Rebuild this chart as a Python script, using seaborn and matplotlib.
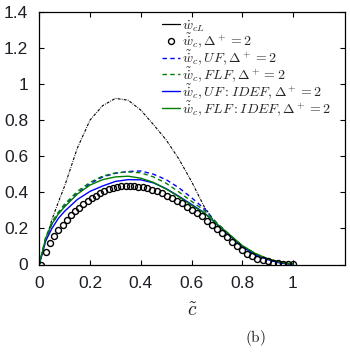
import matplotlib
matplotlib.use("Agg")
import matplotlib.pyplot as plt
from matplotlib.lines import Line2D
import seaborn as sns

# ---- data ----
x_line = [0, 0.025, 0.05, 0.075, 0.1, 0.15, 0.2, 0.25, 0.3, 0.35, 0.4, 0.45,
          0.5, 0.55, 0.6, 0.65, 0.7, 0.75, 0.8, 0.85, 0.9, 0.95, 1.0]

w_cL = [0, 0.13, 0.25, 0.345, 0.435, 0.645, 0.80, 0.88, 0.92, 0.91, 0.855, 0.775,
        0.69, 0.585, 0.46, 0.32, 0.22, 0.16, 0.10, 0.06, 0.032, 0.014, 0.003]

w_uf = [0, 0.14, 0.225, 0.28, 0.325, 0.395, 0.448, 0.485, 0.505, 0.515, 0.518, 0.50,
        0.47, 0.425, 0.37, 0.31, 0.228, 0.163, 0.10, 0.058, 0.029, 0.01, 0.002]

w_flf = [0, 0.15, 0.235, 0.29, 0.335, 0.405, 0.455, 0.49, 0.507, 0.513, 0.508, 0.485,
         0.45, 0.402, 0.35, 0.30, 0.23, 0.166, 0.104, 0.061, 0.031, 0.011, 0.002]

w_uf_idef = [0, 0.13, 0.20, 0.255, 0.295, 0.36, 0.405, 0.435, 0.46, 0.47, 0.469, 0.452,
             0.42, 0.378, 0.333, 0.287, 0.222, 0.16, 0.098, 0.055, 0.027, 0.008, 0.001]

w_flf_idef = [0, 0.145, 0.225, 0.28, 0.32, 0.39, 0.44, 0.47, 0.485, 0.489, 0.478, 0.455,
              0.418, 0.375, 0.328, 0.285, 0.225, 0.165, 0.105, 0.062, 0.032, 0.012, 0.002]

x_circ = [0.005, 0.025, 0.042, 0.058, 0.075, 0.092, 0.108, 0.125, 0.141, 0.158, 0.174,
          0.19, 0.207, 0.224, 0.24, 0.257, 0.273, 0.29, 0.306, 0.323, 0.34, 0.357,
          0.374, 0.391, 0.408, 0.425, 0.443, 0.463, 0.483, 0.503, 0.523, 0.542, 0.562,
          0.582, 0.602, 0.622, 0.642, 0.661, 0.681, 0.701, 0.721, 0.741, 0.761, 0.78,
          0.80, 0.82, 0.84, 0.86, 0.88, 0.90, 0.92, 0.94, 0.96, 0.98, 1.0]
w_circ = [0.0, 0.07, 0.12, 0.158, 0.19, 0.22, 0.248, 0.272, 0.294, 0.314, 0.333,
          0.351, 0.366, 0.382, 0.395, 0.406, 0.416, 0.423, 0.428, 0.432, 0.434, 0.434,
          0.433, 0.431, 0.427, 0.421, 0.415, 0.406, 0.397, 0.382, 0.369, 0.354, 0.339,
          0.321, 0.304, 0.286, 0.266, 0.243, 0.221, 0.198, 0.175, 0.15, 0.125, 0.10,
          0.078, 0.06, 0.045, 0.033, 0.024, 0.017, 0.011, 0.007, 0.004, 0.004, 0.004]

x_ticks = [0, 0.2, 0.4, 0.6, 0.8, 1.0]
x_ticklabels = ["0", "0.2", "0.4", "0.6", "0.8", "1"]
y_ticks = [0, 0.2, 0.4, 0.6, 0.8, 1.0, 1.2, 1.4]
y_ticklabels = ["0", "0.2", "0.4", "0.6", "0.8", "1", "1.2", "1.4"]

labels = [r"$\dot{w}_{cL}$",
          r"$\tilde{\dot{w}}_c, \Delta^+=2$",
          r"$\tilde{\dot{w}}_c, UF, \Delta^+=2$",
          r"$\tilde{\dot{w}}_c, FLF, \Delta^+=2$",
          r"$\tilde{\dot{w}}_c, UF:IDEF, \Delta^+=2$",
          r"$\tilde{\dot{w}}_c, FLF:IDEF, \Delta^+=2$"]

# ---- style ----
sns.set_style("ticks")
plt.rcParams["font.family"] = ["Liberation Sans", "DejaVu Sans"]
plt.rcParams["mathtext.fontset"] = "cm"

BLUE = "#0000ff"
GREEN = "#007f00"
TXT = "#1c1f26"

fig = plt.figure(figsize=(3.5, 3.53), dpi=100)
ax = fig.add_axes([39.3 / 350, 1 - 264.5 / 353, (345 - 39.3) / 350, (264.5 - 11.7) / 353])

kw = dict(ax=ax, sort=False, estimator=None, legend=False)
sns.lineplot(x=x_line, y=w_cL, color="black", linewidth=0.8, dashes=False, **kw)
ax.lines[-1].set_dashes([2.6, 1.1, 0.7, 1.1])
sns.lineplot(x=x_line, y=w_uf, color=BLUE, linewidth=1.0, **kw)
ax.lines[-1].set_dashes([3.2, 2.4])
sns.lineplot(x=x_line, y=w_flf, color=GREEN, linewidth=1.0, **kw)
ax.lines[-1].set_dashes([3.2, 2.4])
sns.lineplot(x=x_line, y=w_uf_idef, color=BLUE, linewidth=1.0, **kw)
sns.lineplot(x=x_line, y=w_flf_idef, color=GREEN, linewidth=1.0, **kw)
sns.lineplot(x=x_circ, y=w_circ, color="black", linestyle="", marker="o",
             markersize=4.3, markerfacecolor="none", markeredgecolor="black",
             markeredgewidth=1.0, **kw)

ax.set_xlim(0, 1.205)
ax.set_ylim(0, 1.4)
ax.set_xticks(x_ticks)
ax.set_xticklabels(x_ticklabels)
ax.set_yticks(y_ticks)
ax.set_yticklabels(y_ticklabels)
ax.tick_params(direction="in", length=3.5, width=0.8, top=True, right=True,
               labelsize=12.5, colors="black", labelcolor=TXT)
ax.tick_params(axis="y", pad=8)
ax.tick_params(axis="x", pad=8.5)
for s in ax.spines.values():
    s.set_linewidth(0.9)
    s.set_color("black")

ax.set_xlabel(r"$\tilde{c}$", fontsize=14, color=TXT, labelpad=8)

handles = [
    Line2D([], [], color="black", linewidth=0.9),
    Line2D([], [], color="black", linestyle="", marker="o", markersize=4.3,
           markerfacecolor="none", markeredgewidth=1.0),
    Line2D([], [], color=BLUE, linewidth=1.0, dashes=[3.2, 2.4]),
    Line2D([], [], color=GREEN, linewidth=1.0, dashes=[3.2, 2.4]),
    Line2D([], [], color=BLUE, linewidth=1.0),
    Line2D([], [], color=GREEN, linewidth=1.0),
]
ax.legend(handles, labels, loc="upper left", bbox_to_anchor=(0.4, 0.975),
          frameon=False, fontsize=10, handlelength=1.3, handletextpad=0.15,
          labelspacing=-0.15, borderpad=0, borderaxespad=0)

fig.text(255 / 350, 1 - 338 / 353, r"$\mathrm{(b)}$", fontsize=11, color=TXT,
         ha="center", va="center")

fig.savefig("out.png", dpi=100)
